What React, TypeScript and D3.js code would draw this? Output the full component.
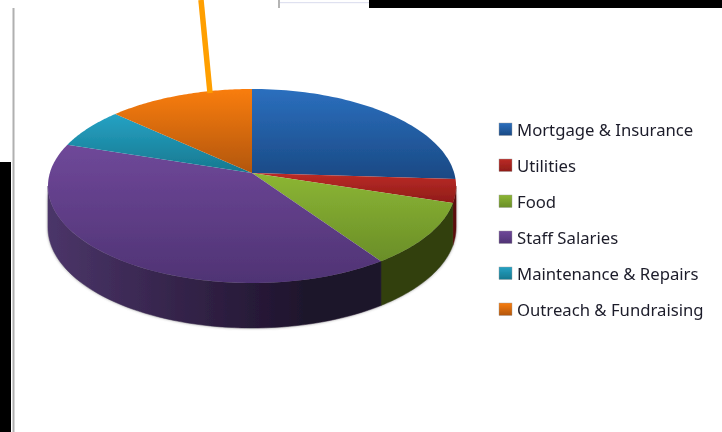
import React from 'react';
import { pie, line, range, scaleLinear, curveLinear } from 'd3';

const width = 722;
const height = 432;

const categories = [
  'Mortgage & Insurance',
  'Utilities',
  'Food',
  'Staff Salaries',
  'Maintenance & Repairs',
  'Outreach & Fundraising',
];
const values = [26, 3.9, 10.5, 39.6, 6.8, 13.2];
const topLight = ['#2b6fbe', '#bb2b26', '#8cb634', '#6f4899', '#26a2c4', '#f97d10'];
const topDark = ['#1a4984', '#8f1c18', '#6a8e28', '#4f3374', '#16788f', '#b25607'];
const wallLeft = ['#163a68', '#6e1512', '#2b3810', '#4b3569', '#0f5a6c', '#7d3d05'];
const wallRight = ['#163a68', '#5c100e', '#323f10', '#1d122a', '#0f5a6c', '#7d3d05'];

// perspective of the tilted disc, apex sits above the ellipse centre
const apex = { x: 252, y: 173 };
const persp = 0.134;
const xScale = scaleLinear().domain([-1, 1]).range([apex.x - 202.2, apex.x + 202.2]);
const yScale = scaleLinear().domain([-1, 1]).range([apex.y + 95.26, apex.y - 95.26]);

const project = (a: number): [number, number] => {
  const u = Math.sin(a);
  const v = Math.cos(a);
  const w = 1 + persp * v;
  return [xScale(u / w), yScale(v / w)];
};
const dropped = (a: number): [number, number] => {
  const [x, y] = project(a);
  return [x, y + 41 - 4 * Math.cos(a)];
};

const arcs = pie<number>().sort(null)(values);
const path = line().curve(curveLinear);
const samples = (a0: number, a1: number) => range(0, 61).map((i) => a0 + ((a1 - a0) * i) / 60);

const wallStart = (97.7 * Math.PI) / 180;
const wallEnd = (262.3 * Math.PI) / 180;

const legendY = scaleLinear().domain([0, 5]).range([129, 309]);

export default function App() {
  const rim = samples(wallStart, wallEnd);
  return (
    <svg
      width={width}
      height={height}
      style={{ position: 'absolute', left: 0, top: 0, background: '#fff' }}
    >
      <defs>
        <filter id="soft" x="-5%" y="-5%" width="110%" height="110%">
          <feGaussianBlur stdDeviation="0.6" />
        </filter>
        <filter id="shadow" x="-10%" y="-10%" width="120%" height="120%">
          <feGaussianBlur stdDeviation="1.6" />
        </filter>
        <filter id="textSoft">
          <feGaussianBlur stdDeviation="0.35" />
        </filter>
        {categories.map((_, i) => (
          <React.Fragment key={i}>
            <linearGradient id={`top${i}`} x1="0" y1="0" x2="0" y2="1">
              <stop offset="0" stopColor={topLight[i]} />
              <stop offset="1" stopColor={topDark[i]} />
            </linearGradient>
            <linearGradient
              id={`wall${i}`}
              gradientUnits="userSpaceOnUse"
              x1={48}
              x2={456}
              y1={0}
              y2={0}
            >
              <stop offset="0" stopColor={wallLeft[i]} />
              <stop offset="0.65" stopColor={wallRight[i]} />
              <stop offset="1" stopColor={wallRight[i]} />
            </linearGradient>
          </React.Fragment>
        ))}
      </defs>

      <rect x={0} y={162} width={11} height={270} fill="#000" />
      <rect x={12.5} y={8} width={2} height={424} fill="#b0b0b0" />
      <rect x={369} y={0} width={353} height={8} fill="#000" />
      <rect x={278} y={0} width={2} height={8} fill="#b4b4b4" />
      <rect x={280} y={2} width={89} height={1.2} fill="#dfe1f0" />

      <path
        d={path([...rim.map((a) => project(a)), ...[...rim].reverse().map((a) => dropped(a))]) + 'Z'}
        fill="#555"
        opacity={0.75}
        filter="url(#shadow)"
      />

      <g filter="url(#soft)">
        {arcs.map((d, i) => {
          const a0 = Math.max(d.startAngle, wallStart);
          const a1 = Math.min(d.endAngle, wallEnd);
          if (a1 <= a0) return null;
          const angles = samples(a0, a1);
          return (
            <path
              key={i}
              d={path([...angles.map((a) => project(a)), ...[...angles].reverse().map((a) => dropped(a))]) + 'Z'}
              fill={`url(#wall${i})`}
              stroke={`url(#wall${i})`}
              strokeWidth={0.5}
            />
          );
        })}
        {arcs.map((d, i) => (
          <path
            key={i}
            d={path([[apex.x, apex.y], ...samples(d.startAngle, d.endAngle).map((a) => project(a))]) + 'Z'}
            fill={`url(#top${i})`}
          />
        ))}
      </g>

      <path d={path([[201, 0], [210, 93]]) ?? ''} stroke="#ff9f00" strokeWidth={5.5} fill="none" />

      <g filter="url(#textSoft)">
        {categories.map((c, i) => (
          <g key={c}>
            <rect
              x={499}
              y={legendY(i) - 6}
              width={13}
              height={12.5}
              fill={`url(#top${i})`}
              stroke="#999"
              strokeWidth={0.4}
            />
            <text
              x={517}
              y={legendY(i) + 1}
              dy="0.36em"
              fontFamily="'Noto Sans', 'Open Sans', sans-serif"
              fontSize={16.7}
              fill="#1c1c2a"
            >
              {c}
            </text>
          </g>
        ))}
      </g>
    </svg>
  );
}
